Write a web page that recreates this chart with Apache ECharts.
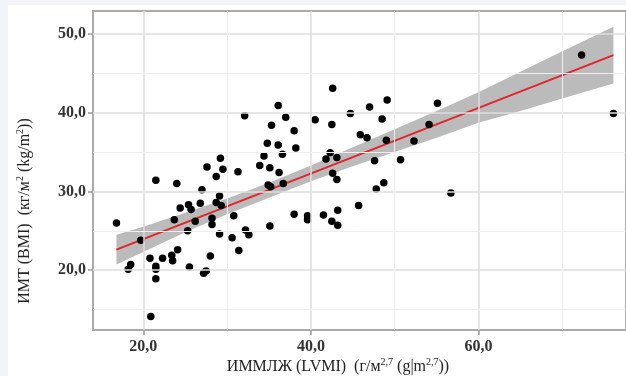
<!DOCTYPE html>
<html><head><meta charset="utf-8">
<script src="https://cdn.jsdelivr.net/npm/echarts@6/dist/echarts.min.js"></script>
<style>
html,body{margin:0;padding:0;background:#f2f4f9;width:626px;height:376px;overflow:hidden;}
#bg{position:absolute;left:8px;top:5px;width:618px;height:371px;background:#fff;}
#c{position:absolute;left:0;top:0;width:626px;height:376px;}
</style></head><body>
<div id="bg"></div><div id="c"></div>
<script>
// LVMI (x) and BMI (y) for each patient
const lvmi = [29.2,27.6,29.5,28.7,31.3,21.5,24.0,27.0,29.1,26.8,28.7,24.4,25.4,25.7,16.8,23.7,26.2,28.2,28.2,30.8,
  25.3,29.1,32.2,32.6,19.7,30.6,31.4,24.1,23.4,23.5,22.3,20.8,28.0,18.5,18.2,21.5,21.5,21.5,25.5,27.5,
  27.2,20.9,36.1,32.1,37.0,40.5,42.5,35.3,38.0,34.8,36.1,38.2,36.6,34.4,42.3,41.8,43.1,33.9,35.1,36.2,
  42.6,43.1,34.9,35.2,36.7,38.0,39.6,39.6,41.5,43.2,42.5,43.2,35.1,42.6,49.1,47.0,55.1,44.7,48.5,54.1,
  45.9,46.7,49.0,52.3,47.6,50.7,48.7,47.8,56.7,45.7,72.3,76.1,29.3];
const bmi = [34.2,33.1,32.8,31.9,32.5,31.4,31.0,30.2,29.4,28.5,28.6,27.9,28.3,27.7,26.0,26.4,26.2,26.6,25.8,26.9,
  25.0,24.6,25.1,24.5,23.8,24.1,22.5,22.6,21.9,21.2,21.5,21.5,21.8,20.7,20.1,20.5,20.1,18.9,20.4,19.9,
  19.6,14.1,40.9,39.6,39.4,39.1,38.5,38.4,37.7,36.1,35.9,35.5,34.7,34.5,34.9,34.1,34.3,33.3,33.0,32.4,
  32.3,31.5,30.8,30.6,31.0,27.1,26.9,26.4,27.0,27.6,26.2,25.7,25.6,43.1,41.6,40.7,41.2,39.9,39.2,38.5,
  37.2,36.8,36.5,36.4,33.9,34.0,31.1,30.3,29.8,28.2,47.3,39.9,28.2];
// fitted regression line
const fitX = [16.8, 76.1];
const fitY = [22.6, 47.3];
// confidence band
const bandX     = [16.8, 20,   25,   30,   35,   40,   45,   50,   55,   60,   65,   70,   76.1];
const bandUpper = [24.5, 25.5, 27.3, 29.1, 31.1, 33.3, 35.6, 37.9, 40.2, 42.6, 45.2, 47.8, 50.9];
const bandLower = [20.7, 22.3, 24.8, 27.1, 29.2, 31.3, 33.2, 35.0, 36.8, 38.7, 40.2, 41.8, 43.7];
// ticks
const xTicks = [20, 40, 60];
const yTicks = [20, 30, 40, 50];
const xMinor = [30, 50, 70];
const yMinor = [15, 25, 35, 45];

const serif = 'Liberation Serif';
const fmt = v => v.toFixed(1).replace('.', ',');
const points = lvmi.map((x, i) => [x, bmi[i]]);
const fitData = fitX.map((x, i) => [x, fitY[i]]);

const majorStyle = {color: '#dedede', width: 1.5, type: 'solid'};
const minorStyle = {color: '#eeeeee', width: 1, type: 'solid'};
const gridLines = []
  .concat(xTicks.map(v => ({xAxis: v, lineStyle: majorStyle})))
  .concat(yTicks.map(v => ({yAxis: v, lineStyle: majorStyle})))
  .concat(xMinor.map(v => ({xAxis: v, lineStyle: minorStyle})))
  .concat(yMinor.map(v => ({yAxis: v, lineStyle: minorStyle})));

const chart = echarts.init(document.getElementById('c'), null, {renderer: 'canvas'});
chart.setOption({
  animation: false,
  backgroundColor: 'transparent',
  grid: {left: 93, top: 11, width: 535, height: 319, show: true, borderColor: '#aaaaaa', borderWidth: 2, backgroundColor: 'transparent'},
  xAxis: {
    type: 'value', min: 14, max: 77.6,
    axisLine: {show: false},
    splitLine: {show: false},
    axisTick: {show: true, customValues: xTicks, length: 5, lineStyle: {color: '#999', width: 1.5}},
    axisLabel: {customValues: xTicks, formatter: fmt, margin: 9, fontFamily: serif, fontSize: 16, fontWeight: 'bold', color: '#333'}
  },
  yAxis: {
    type: 'value', min: 12.4, max: 52.9,
    axisLine: {show: false},
    splitLine: {show: false},
    axisTick: {show: true, customValues: yTicks, length: 5, lineStyle: {color: '#999', width: 1.5}},
    axisLabel: {customValues: yTicks, formatter: fmt, margin: 7, fontFamily: serif, fontSize: 16, fontWeight: 'bold', color: '#333'}
  },
  series: [
    {
      type: 'line', data: [], silent: true, z: 1,
      markLine: {silent: true, symbol: 'none', label: {show: false}, animation: false, data: gridLines}
    },
    {
      type: 'custom', coordinateSystem: 'cartesian2d', silent: true, z: 2,
      data: [[bandX[0], bandUpper[0]]],
      renderItem: function (params, api) {
        if (params.dataIndex !== 0) return null;
        const pts = [];
        for (let i = 0; i < bandX.length; i++) pts.push(api.coord([bandX[i], bandUpper[i]]));
        for (let i = bandX.length - 1; i >= 0; i--) pts.push(api.coord([bandX[i], bandLower[i]]));
        return {type: 'polygon', shape: {points: pts}, style: {fill: 'rgba(150,150,150,0.65)'}};
      }
    },
    {
      type: 'line', data: fitData, showSymbol: false, symbol: 'none', z: 3, silent: true,
      lineStyle: {color: '#e3242b', width: 2}
    },
    {
      type: 'scatter', data: points, symbol: 'circle', symbolSize: 7.5, z: 4,
      itemStyle: {color: '#000', opacity: 1}
    }
  ],
  graphic: [
    {
      type: 'text', x: 338, y: 366, z: 10,
      style: {
        text: '{n|ИММЛЖ (LVMI)  (г/м}{s|2,7}{n| (g|m}{s|2,7}{n|))}',
        align: 'center', verticalAlign: 'middle',
        rich: {
          n: {fontFamily: serif, fontSize: 16, fill: '#222', lineHeight: 18, verticalAlign: 'bottom'},
          s: {fontFamily: serif, fontSize: 10, fill: '#222', lineHeight: 18, verticalAlign: 'top'}
        }
      }
    },
    {
      type: 'text', x: 24, y: 211, rotation: Math.PI / 2, z: 10,
      style: {
        text: '{n|ИМТ (BMI)  (кг/м}{s|2}{n| (kg/m}{s|2}{n|))}',
        align: 'center', verticalAlign: 'middle',
        rich: {
          n: {fontFamily: serif, fontSize: 16, fill: '#222', lineHeight: 18, verticalAlign: 'bottom'},
          s: {fontFamily: serif, fontSize: 10, fill: '#222', lineHeight: 18, verticalAlign: 'top'}
        }
      }
    }
  ]
});
</script>
</body></html>
